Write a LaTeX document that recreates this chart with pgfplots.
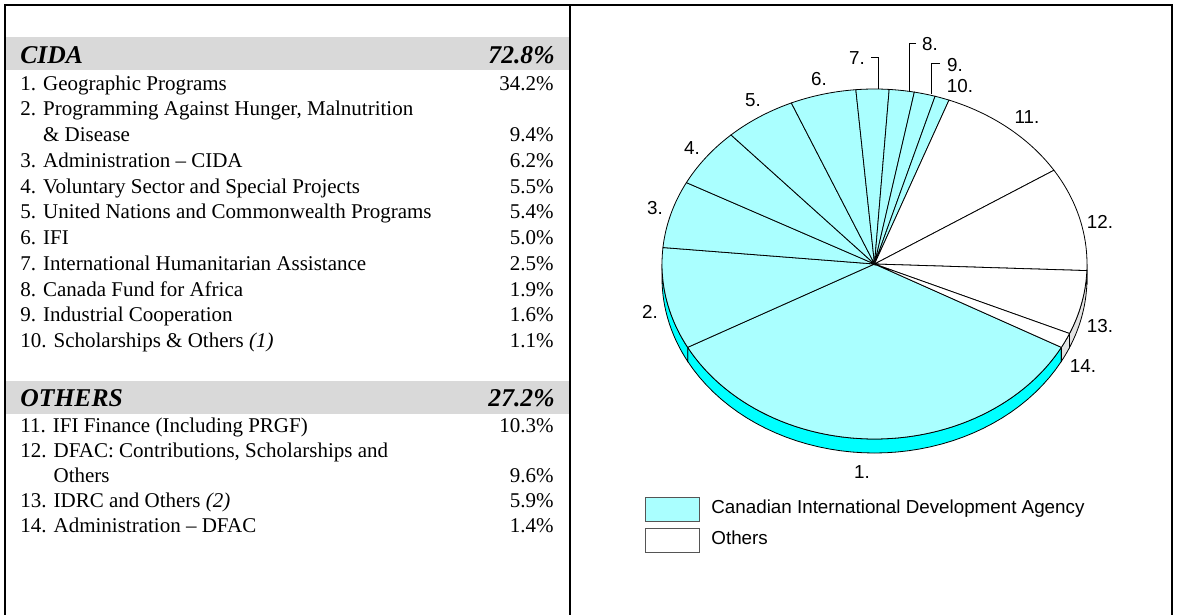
\documentclass[border=0pt]{standalone}
\usepackage{pgfplots}
\pgfplotsset{compat=1.18}
\usepackage{fontspec}
\setmainfont{Liberation Serif}
\newfontfamily\arial{Liberation Sans}
\definecolor{cidaTop}{HTML}{AAFFFF}
\definecolor{cidaSide}{HTML}{00FFFF}
\definecolor{othSide}{HTML}{E3E3E3}
\definecolor{barGray}{HTML}{D9D9D9}
\definecolor{legBorder}{HTML}{555555}
\newcommand{\rowfont}{\fontsize{10.5}{12}\selectfont}
\newcommand{\hdfont}{\fontsize{12.8}{15}\selectfont\bfseries\itshape}
\newcommand{\piefont}{\arial\fontsize{9.4}{11}\selectfont}
\newcommand{\trow}[3]{%
  \node[anchor=base west,inner sep=0pt,font=\rowfont] at (axis cs:20,#1) {#2};
  \node[anchor=base east,inner sep=0pt,font=\rowfont] at (axis cs:554,#1) {#3};}
\begin{document}
\begin{tikzpicture}
\useasboundingbox (0,0) rectangle (588.5pt,-307.5pt);
\begin{axis}[at={(0pt,0pt)}, anchor=north west, scale only axis,
  width=588.5pt, height=307.5pt, xmin=0, xmax=1177, ymin=0, ymax=615,
  y dir=reverse, axis lines=none, clip=false]
% ---------- left panel ----------
\fill[barGray] (axis cs:5,37) rectangle (axis cs:570,70);
\fill[barGray] (axis cs:5,381) rectangle (axis cs:570,414);
\draw[line width=1.3pt] (axis cs:5,615) -- (axis cs:5,5) -- (axis cs:1172,5) -- (axis cs:1172,615);
\draw[line width=1.3pt] (axis cs:570,5) -- (axis cs:570,615);
\node[anchor=base west,inner sep=0pt,font=\hdfont] at (axis cs:20,63) {CIDA};
\node[anchor=base east,inner sep=0pt,font=\hdfont] at (axis cs:555,63) {72.8\%};
\trow{90}{1. Geographic Programs}{34.2\%}
\trow{115.75}{2. Programming Against Hunger, Malnutrition}{}
\trow{141.5}{\phantom{2. }\& Disease}{9.4\%}
\trow{167.25}{3. Administration – CIDA}{6.2\%}
\trow{193}{4. Voluntary Sector and Special Projects}{5.5\%}
\trow{218.75}{5. United Nations and Commonwealth Programs}{5.4\%}
\trow{244.5}{6. IFI}{5.0\%}
\trow{270.25}{7. International Humanitarian Assistance}{2.5\%}
\trow{296}{8. Canada Fund for Africa}{1.9\%}
\trow{321.75}{9. Industrial Cooperation}{1.6\%}
\trow{347.5}{10. Scholarships \& Others \textit{(1)}}{1.1\%}
\node[anchor=base west,inner sep=0pt,font=\hdfont] at (axis cs:20,406) {OTHERS};
\node[anchor=base east,inner sep=0pt,font=\hdfont] at (axis cs:555,406) {27.2\%};
\trow{432}{11. IFI Finance (Including PRGF)}{10.3\%}
\trow{457}{12. DFAC: Contributions, Scholarships and}{}
\trow{482}{\phantom{12. }Others}{9.6\%}
\trow{507}{13. IDRC and Others \textit{(2)}}{5.9\%}
\trow{532}{14. Administration – DFAC}{1.4\%}
% ---------- pie ----------
\def\cx{874.5}\def\cy{264}\def\ra{212.5}\def\rb{175}\def\hh{14}
% sides
\xdef\cur{-28.44}
\foreach \v/\tc/\sc in {34.2/cidaTop/cidaSide, 9.4/cidaTop/cidaSide, 6.2/cidaTop/cidaSide,
  5.5/cidaTop/cidaSide, 5.4/cidaTop/cidaSide, 5.0/cidaTop/cidaSide, 2.5/cidaTop/cidaSide,
  1.9/cidaTop/cidaSide, 1.6/cidaTop/cidaSide, 1.1/cidaTop/cidaSide, 10.3/white/othSide,
  9.6/white/othSide, 5.9/white/othSide, 1.4/white/othSide}{%
  \pgfmathsetmacro\s{\cur}%
  \pgfmathsetmacro\e{\cur-\v*3.6}%
  \foreach \lim in {0,-360}{%
    \pgfmathsetmacro\lo{max(\e,\lim-180)}%
    \pgfmathsetmacro\hi{min(\s,\lim)}%
    \ifdim\hi pt>\lo pt
      \edef\temp{\noexpand\addplot[fill=\sc, draw=black, line width=0.4pt, samples at={0,...,81}]
        ({\cx+\ra*cos(ifthenelse(x<40.5,\lo+(\hi-\lo)*x/40,\hi-(\hi-\lo)*(x-41)/40))},
         {\cy-\rb*sin(ifthenelse(x<40.5,\lo+(\hi-\lo)*x/40,\hi-(\hi-\lo)*(x-41)/40))+ifthenelse(x<40.5,0,\hh)}) -- cycle;}%
      \temp
    \fi
  }%
  \xdef\cur{\e}%
}
% top faces
\xdef\cur{-28.44}
\foreach \v/\tc in {34.2/cidaTop, 9.4/cidaTop, 6.2/cidaTop, 5.5/cidaTop, 5.4/cidaTop,
  5.0/cidaTop, 2.5/cidaTop, 1.9/cidaTop, 1.6/cidaTop, 1.1/cidaTop, 10.3/white,
  9.6/white, 5.9/white, 1.4/white}{%
  \pgfmathsetmacro\s{\cur}%
  \pgfmathsetmacro\e{\cur-\v*3.6}%
  \edef\temp{\noexpand\addplot[fill=\tc, draw=black, line width=0.4pt, domain=\e:\s, samples=60]
    ({\cx+\ra*cos(x)},{\cy-\rb*sin(x)}) -- (axis cs:\cx,\cy) -- cycle;}%
  \temp
  \xdef\cur{\e}%
}
% leader lines
\draw[line width=0.4pt] (axis cs:871,57) -- (axis cs:878,57) -- (axis cs:878,89);
\draw[line width=0.4pt] (axis cs:916,43) -- (axis cs:909,43) -- (axis cs:909,91);
\draw[line width=0.4pt] (axis cs:940,63) -- (axis cs:931,63) -- (axis cs:931,94);
% labels
\foreach \lab/\lx/\ly in {1./862/472, 2./650/312, 3./655/208, 4./692/148, 5./753/100,
  6./819/79, 7./857/58, 8./930/44, 9./955/65, 10./960/86, 11./1027/117,
  12./1100/222, 13./1100/326, 14./1083/366}{%
  \edef\temp{\noexpand\node[font=\noexpand\piefont, inner sep=0pt] at (axis cs:\lx,\ly) {\lab};}%
  \temp
}
% legend
\draw[fill=cidaTop, draw=legBorder, line width=0.5pt] (axis cs:645,497) rectangle (axis cs:699,521);
\draw[fill=white, draw=legBorder, line width=0.5pt] (axis cs:645,528) rectangle (axis cs:699,552);
\node[anchor=west, inner sep=0pt, font=\piefont] at (axis cs:711,509) {Canadian International Development Agency};
\node[anchor=west, inner sep=0pt, font=\piefont] at (axis cs:711,538) {Others};
\end{axis}
\end{tikzpicture}
\end{document}
